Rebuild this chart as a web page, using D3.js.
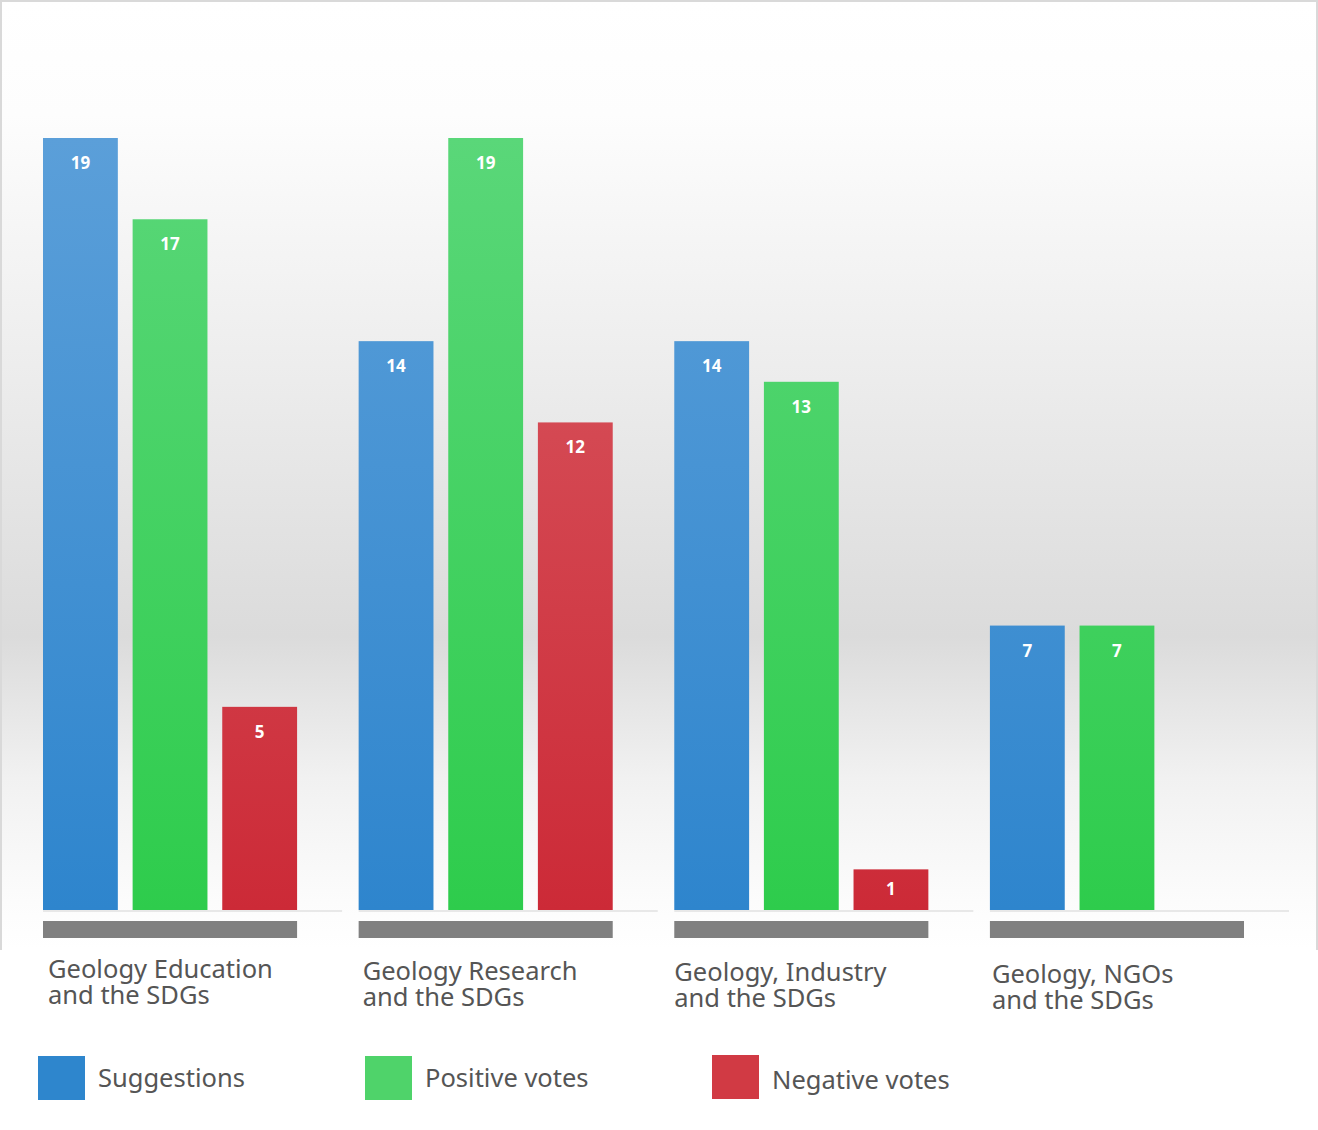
<!DOCTYPE html>
<html>
<head>
<meta charset="utf-8">
<script src="https://cdn.jsdelivr.net/npm/d3@7"></script>
<style>
  body { margin: 0; background: #fff; }
  svg { display: block; }
</style>
</head>
<body>
<svg id="chart"></svg>
<script>
// Data
const categories = [
  ["Geology Education", "and the SDGs"],
  ["Geology Research", "and the SDGs"],
  ["Geology, Industry", "and the SDGs"],
  ["Geology, NGOs", "and the SDGs"]
];
const seriesNames = ["Suggestions", "Positive votes", "Negative votes"];
const suggestions = [19, 14, 14, 7];
const positiveVotes = [17, 19, 13, 7];
const negativeVotes = [5, 12, 1, null];

const W = 1318, H = 1130;
const svg = d3.select("#chart").attr("width", W).attr("height", H);
const defs = svg.append("defs");

// Background panel gradient
const bg = defs.append("linearGradient").attr("id", "bg")
  .attr("x1", 0).attr("y1", 0).attr("x2", 0).attr("y2", 1);
bg.append("stop").attr("offset", "0%").attr("stop-color", "#ffffff");
bg.append("stop").attr("offset", "12%").attr("stop-color", "#fdfdfd");
bg.append("stop").attr("offset", "40%").attr("stop-color", "#ececec");
bg.append("stop").attr("offset", "67%").attr("stop-color", "#dbdbdb");
bg.append("stop").attr("offset", "82%").attr("stop-color", "#f1f1f1");
bg.append("stop").attr("offset", "95%").attr("stop-color", "#fcfcfc");
bg.append("stop").attr("offset", "100%").attr("stop-color", "#ffffff");

svg.append("rect")
  .attr("x", 1).attr("y", 1).attr("width", W - 2).attr("height", 948)
  .attr("fill", "url(#bg)");
// frame (top, left, right)
svg.append("path")
  .attr("d", `M1,950 V1 H${W - 1} V950`)
  .attr("fill", "none").attr("stroke", "#d9d9d9").attr("stroke-width", 2);

const colors = ["#2e86cd", "#4fd36a", "#d13a44"];
const gradStops = [
  ["#5b9fd9", "#2e85cd"],
  ["#5ad779", "#2ecc4c"],
  ["#d95b63", "#cc2a37"]
];
gradStops.forEach((s, i) => {
  const g = defs.append("linearGradient").attr("id", "bar" + i)
    .attr("gradientUnits", "userSpaceOnUse")
    .attr("x1", 0).attr("y1", 138).attr("x2", 0).attr("y2", 910);
  g.append("stop").attr("offset", "0%").attr("stop-color", s[0]);
  g.append("stop").attr("offset", "100%").attr("stop-color", s[1]);
});

// Scales
const x0 = d3.scaleBand()
  .domain(d3.range(categories.length))
  .range([43, 1244])
  .paddingInner(0.195)
  .paddingOuter(0);

const x1 = d3.scaleBand()
  .domain(d3.range(seriesNames.length))
  .range([0, x0.bandwidth()])
  .paddingInner(0.165)
  .paddingOuter(0);

const y = d3.scaleLinear().domain([0, 19]).range([910, 138]);

const series = [suggestions, positiveVotes, negativeVotes];

const groups = svg.selectAll(".group")
  .data(categories)
  .join("g")
  .attr("class", "group")
  .attr("transform", (d, i) => `translate(${x0(i)},0)`);

// baseline shadow line
groups.append("line")
  .attr("x1", 0).attr("x2", x0.bandwidth() + 45)
  .attr("y1", y(0) + 1).attr("y2", y(0) + 1)
  .attr("stroke", "#e8e8e8").attr("stroke-width", 2);

// bars
groups.each(function (cat, ci) {
  const g = d3.select(this);
  const vals = series.map((s, si) => ({ si, v: s[ci] })).filter(d => d.v != null);
  g.selectAll("rect.bar")
    .data(vals)
    .join("rect")
    .attr("class", "bar")
    .attr("x", d => x1(d.si))
    .attr("y", d => y(d.v))
    .attr("width", x1.bandwidth())
    .attr("height", d => y(0) - y(d.v))
    .attr("fill", d => `url(#bar${d.si})`);
  g.selectAll("text.val")
    .data(vals)
    .join("text")
    .attr("class", "val")
    .attr("x", d => x1(d.si) + x1.bandwidth() / 2)
    .attr("y", d => y(d.v) + Math.min(31, (y(0) - y(d.v)) / 2 + 5))
    .attr("text-anchor", "middle")
    .attr("fill", "#fff")
    .attr("font-family", "'Open Sans', 'Noto Sans', sans-serif")
    .attr("font-weight", "bold")
    .attr("font-size", 17)
    .text(d => d.v);
});

// grey category bars
groups.append("rect")
  .attr("x", 0).attr("y", 921)
  .attr("width", x0.bandwidth()).attr("height", 17)
  .attr("fill", "#808080");

// category labels
const labelDx = [5, 4, 0, 2];
const labelDy = [978, 980, 981, 983];
groups.append("text")
  .attr("x", (d, i) => labelDx[i])
  .attr("y", (d, i) => labelDy[i])
  .attr("fill", "#555")
  .attr("font-family", "'Noto Sans', sans-serif")
  .attr("font-size", 25.5)
  .selectAll("tspan")
  .data(d => d)
  .join("tspan")
  .attr("x", function () { return d3.select(this.parentNode).attr("x"); })
  .attr("dy", (d, i) => i === 0 ? 0 : 26)
  .text(d => d);

// legend
const legendX = [38, 365, 712];
const legend = svg.selectAll(".legend")
  .data(seriesNames)
  .join("g")
  .attr("class", "legend")
  .attr("transform", (d, i) => `translate(${legendX[i]},${i === 2 ? 1055 : 1056})`);
legend.append("rect")
  .attr("width", 47).attr("height", 44)
  .attr("fill", (d, i) => colors[i]);
legend.append("text")
  .attr("x", 60)
  .attr("y", (d, i) => i === 2 ? 34 : 31)
  .attr("fill", "#555")
  .attr("font-family", "'Noto Sans', sans-serif")
  .attr("font-size", 25.5)
  .text(d => d);
</script>
</body>
</html>
